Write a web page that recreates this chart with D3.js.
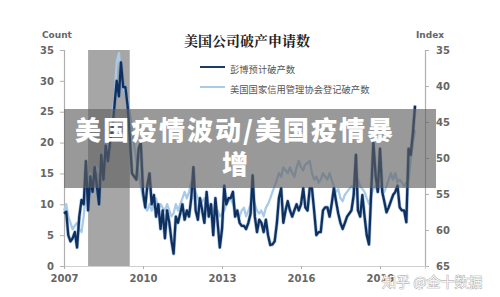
<!DOCTYPE html>
<html><head><meta charset="utf-8">
<script src="https://cdn.jsdelivr.net/npm/d3@7"></script>
<style>html,body{margin:0;padding:0;background:#fff}svg{display:block}</style>
</head><body>
<svg id="c" width="500" height="297"></svg>
<script>
// ---- data (monthly, Jan 2007 onward) ----
const title = "美国公司破产申请数";
const seriesNames = ["彭博预计破产数", "美国国家信用管理协会登记破产数"];
const bloombergCount = [
  8.5, 8.8, 5, 4, 4.5, 5.5, 3, 8, 10.7, 10, 17, 9,          // 2007
  14.5, 12, 16, 13, 10, 18, 14, 19.5, 17, 20, 22, 26,      // 2008
  30, 27.5, 33, 29, 29, 26, 21, 15, 14.5, 14, 19, 20,      // 2009
  12, 9.5, 13, 15, 10, 11.5, 8, 10, 6, 9, 4.5, 9,          // 2010
  7, 4, 2, 8, 7, 8.5, 10, 7.5, 9, 8, 11, 16,               // 2011
  9, 7.5, 11, 9, 7, 12, 8, 10, 5, 11, 7, 3,                // 2012
  6, 13, 10, 11, 11, 12, 8, 9, 7, 6.5, 6.5, 6,             // 2013
  7, 8.5, 14.7, 8, 5.5, 7.5, 7, 5.5, 7.5, 5, 3.4, 3.5,     // 2014
  4, 7, 11, 12.6, 7, 9, 10.5, 9, 8, 9, 10, 9,              // 2015
  10, 12.6, 9.5, 9, 12.6, 12.6, 9, 5, 5.5, 5.5, 9, 9.5,    // 2016
  9.5, 8, 10, 12.6, 10.5, 8.5, 7, 6, 7, 8, 8.5, 9,         // 2017
  11.5, 18, 9, 8, 11.5, 8, 5, 3.5, 12, 20, 14.7, 12,       // 2018
  19, 12, 10.5, 8.7, 9.5, 10.5, 11.5, 12, 13, 9.5, 9, 9,   // 2019
  7.1, 19, 18, 21.5, 26                                    // 2020
];
const nacmIndex = [
  57.3, 56.4, 58.1, 59.0, 59.9, 59.4, 59.0, 59.9, 60.3, 58.1, 54.7, 53.0,
  52.1, 53.0, 52.1, 51.3, 52.1, 50.4, 49.6, 47.9, 48.7, 46.1, 43.6, 41.9,
  36.7, 35.4, 39.3, 40.1, 41.0, 41.9, 43.6, 46.1, 48.3, 50.4, 52.1, 53.9,
  55.6, 56.9, 57.3, 56.4, 57.3, 56.4, 55.6, 57.3, 56.4, 56.9, 57.3, 56.4,
  57.3, 58.1, 57.7, 56.4, 57.3, 56.4, 55.6, 54.7, 55.6, 54.7, 53.4, 53.9,
  54.7, 55.6, 56.4, 56.0, 55.6, 57.3, 56.9, 56.4, 57.3, 57.7, 57.3, 58.1,
  57.7, 57.3, 56.4, 56.0, 55.6, 56.4, 57.3, 58.1, 58.1, 57.3, 56.9, 58.1,
  57.3, 56.4, 55.6, 56.4, 57.3, 57.7, 57.3, 58.1, 56.9, 56.4, 55.6, 54.7,
  53.9, 53.0, 52.1, 52.6, 51.3, 51.7, 52.1, 51.3, 52.1, 52.6, 51.3, 50.4,
  51.3, 51.7, 50.9, 50.7, 50.4, 52.1, 53.0, 52.6, 53.4, 53.0, 52.1, 52.6,
  53.0, 52.1, 53.0, 53.9, 54.7, 54.3, 55.6, 56.0, 55.1, 54.7, 54.3, 53.9,
  54.3, 53.9, 53.0, 53.9, 54.3, 54.7, 55.6, 56.4, 55.1, 54.3, 53.9, 54.7,
  53.9, 54.3, 54.7, 53.9, 53.0, 52.1, 53.0, 52.1, 53.4, 53.0, 53.4, 53.9,
  53.4, 53.0, 50.4, 47.9, 46.1
];
const xTickYears = [2007, 2010, 2013, 2016, 2019];
const leftTicks = [0, 5, 10, 15, 20, 25, 30, 35];
const rightTicks = [35, 40, 45, 50, 55, 60, 65];
const recession = [new Date(2007, 11, 1), new Date(2009, 6, 1)];
const overlayLines = ["美国疫情波动/美国疫情暴", "增"];
const watermark = "知乎 @金十数据";

// ---- chart ----
const svg = d3.select("#c");
const L = 64, R = 425, T = 50, B = 266;
const x = d3.scaleTime().domain([new Date(2007, 0, 1), new Date(2020, 8, 16)]).range([L, R]);
const yL = d3.scaleLinear().domain([0, 35]).range([B, T]);
const yR = d3.scaleLinear().domain([35, 65]).range([T, B]);
const date = i => new Date(2007, i, 1);
const axisFont = "'DejaVu Sans', sans-serif";

svg.append("rect").attr("width", 500).attr("height", 297).attr("fill", "#fff");

// recession band
svg.append("rect")
  .attr("x", x(recession[0])).attr("y", T)
  .attr("width", x(recession[1]) - x(recession[0])).attr("height", B - T)
  .attr("fill", "#a6a6a6");

// axes
const gL = svg.append("g").attr("transform", `translate(${L},0)`)
  .call(d3.axisLeft(yL).tickValues(leftTicks).tickSize(4).tickPadding(6));
const gR = svg.append("g").attr("transform", `translate(${R},0)`)
  .call(d3.axisRight(yR).tickValues(rightTicks).tickSize(4).tickPadding(7));
const gX = svg.append("g").attr("transform", `translate(0,${B})`)
  .call(d3.axisBottom(x).tickValues(xTickYears.map(y => new Date(y, 0, 1)))
    .tickFormat(d3.timeFormat("%Y")).tickSize(3).tickPadding(6));
[gL, gR, gX].forEach(g => {
  g.selectAll("path.domain").attr("stroke", "#b0b0b0").attr("stroke-width", 1.2);
  g.selectAll(".tick line").attr("stroke", "#b0b0b0");
  g.selectAll(".tick text").attr("fill", "#666").attr("font-family", axisFont)
    .attr("font-weight", "bold").attr("font-size", 10);
});
gX.select("path.domain").attr("stroke", "#d0d0d0");

svg.append("text").attr("x", 42).attr("y", 38).text("Count")
  .attr("font-family", axisFont).attr("font-weight", "bold").attr("font-size", 9).attr("fill", "#666");
svg.append("text").attr("x", 416).attr("y", 38).text("Index")
  .attr("font-family", axisFont).attr("font-weight", "bold").attr("font-size", 9).attr("fill", "#666");

// lines
const lineL = d3.line().x((d, i) => x(date(i))).y(d => yL(d)).curve(d3.curveLinear);
const lineR = d3.line().x((d, i) => x(date(i))).y(d => yR(d)).curve(d3.curveLinear);
svg.append("path").datum(nacmIndex).attr("d", lineR)
  .attr("fill", "none").attr("stroke", "#a9cbe8").attr("stroke-width", 2.3).attr("stroke-linejoin", "round");
svg.append("path").datum(bloombergCount).attr("d", lineL)
  .attr("fill", "none").attr("stroke", "#5b8cc0").attr("stroke-width", 3.6).attr("stroke-opacity", 0.5).attr("stroke-linejoin", "round");
svg.append("path").datum(bloombergCount).attr("d", lineL)
  .attr("fill", "none").attr("stroke", "#0f2f5e").attr("stroke-width", 2.3).attr("stroke-linejoin", "round");

// title & legend
const cjk = "'Noto Sans CJK SC', sans-serif";
svg.append("text").attr("x", 247).attr("y", 40).attr("text-anchor", "middle").attr("dominant-baseline", "central")
  .text(title).attr("font-family", "'Noto Serif CJK SC', " + cjk).attr("font-weight", "bold").attr("font-size", 14).attr("fill", "#222");
const legColors = ["#1d3a62", "#a9cbe8"];
seriesNames.forEach((n, i) => {
  const ly = 67 + i * 20;
  svg.append("line").attr("x1", 200).attr("x2", 225).attr("y1", ly).attr("y2", ly)
    .attr("stroke", legColors[i]).attr("stroke-width", 2);
  svg.append("text").attr("x", 230).attr("y", ly + 1.5).attr("dominant-baseline", "central").text(n)
    .attr("font-family", cjk).attr("font-size", 9.3).attr("fill", "#555");
});

// overlay band
svg.append("rect").attr("x", 64).attr("y", 109).attr("width", 372).attr("height", 79)
  .attr("fill", "rgb(96,96,96)").attr("fill-opacity", 0.64);
overlayLines.forEach((t, i) => {
  svg.append("text").attr("x", 235).attr("y", 128 + i * 34).attr("text-anchor", "middle")
    .attr("dominant-baseline", "central").text(t)
    .attr("font-family", cjk).attr("font-weight", 900).attr("font-size", 26)
    .attr("letter-spacing", i === 0 ? 2 : 0).attr("fill", "#fff");
});

// watermark
svg.append("text").attr("x", 382).attr("y", 281).attr("dominant-baseline", "central").text(watermark)
  .attr("font-family", cjk).attr("font-size", 14).attr("fill", "#f4f4f4")
  .attr("stroke", "#9a9a9a").attr("stroke-width", 0.7).attr("paint-order", "stroke");
</script>
</body></html>
